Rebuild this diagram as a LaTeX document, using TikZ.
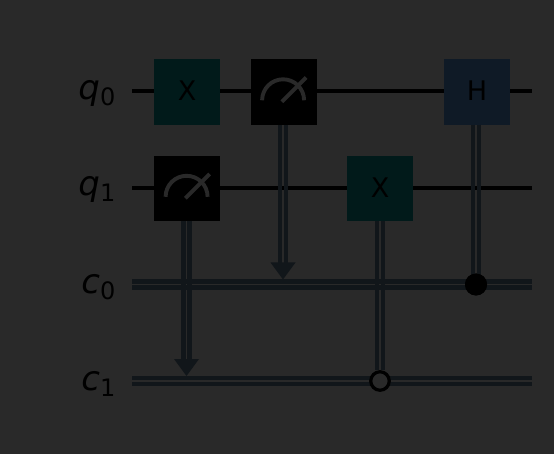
\documentclass[tikz,border=0pt]{standalone}
\usepackage{fontspec}
\setmainfont{DejaVu Sans}
\definecolor{bgc}{HTML}{292929}
\definecolor{clc}{HTML}{11161A}
\definecolor{xc}{HTML}{011A1A}
\definecolor{hc}{HTML}{0F1A26}
\newcommand{\wlabel}[2]{{\fontsize{34}{36}\selectfont\itshape #1}\raisebox{-6pt}{\fontsize{24}{26}\selectfont #2}}
\newcommand{\gatetext}[1]{\raisebox{2.6pt}{#1}}
\tikzset{
  x=1pt,y=-1pt,
  qwire/.style={line width=4.5pt,black},
  cwire/.style={line width=4.4pt,clc},
  gatebox/.style={draw=none,minimum width=66pt,minimum height=65.5pt,inner sep=0pt,text=black,font=\fontsize{27}{29}\selectfont},
  xgate/.style={gatebox,fill=xc},
  hgate/.style={gatebox,fill=hc},
  mgate/.style={gatebox,fill=black},
  meter/.style={line width=3.9pt,color=bgc},
  wlab/.style={anchor=base east,inner sep=0pt,text=black},
  head/.style={fill=clc,draw=none},
  ctrlon/.style={circle,fill=black,draw=none,minimum size=22pt,inner sep=0pt},
  ctrloff/.style={circle,fill=bgc,draw=black,line width=3.2pt,minimum size=18.5pt,inner sep=0pt}
}
\begin{document}
\begin{tikzpicture}
\useasboundingbox[fill=bgc] (0,0) rectangle (554,454);
% wire ends
\coordinate (q0l) at (132,91); \coordinate (q0r) at (532,91);
\coordinate (q1l) at (132,188); \coordinate (q1r) at (532,188);
\draw[qwire] (q0l) -- (q0r);
\draw[qwire] (q1l) -- (q1r);
\coordinate (c0l) at (132,284.5); \coordinate (c0r) at (532,284.5);
\coordinate (c1l) at (132,381); \coordinate (c1r) at (532,381);
\foreach \a/\b in {c0l/c0r,c1l/c1r}{
  \draw[cwire] ([yshift=-3.1pt]\a) -- ([yshift=-3.1pt]\b);
  \draw[cwire] ([yshift=3.1pt]\a) -- ([yshift=3.1pt]\b);
}
% labels
\node[wlab] (lq0) at (115.5,99.5) {\wlabel{q}{0}};
\node[wlab] (lq1) at (115.5,196) {\wlabel{q}{1}};
\node[wlab] (lc0) at (115.5,294) {\wlabel{c}{0}};
\node[wlab] (lc1) at (115.5,390.5) {\wlabel{c}{1}};
% gates
\node[xgate] (g1) at (187,92) {\gatetext{X}};
\node[mgate] (m1) at (187,188.5) {};
\node[mgate] (m0) at (283.5,92) {};
\node[xgate] (g2) at (380,188.5) {\gatetext{X}};
\node[hgate] (g3) at (477,92) {\gatetext{H}};
% ends of the classical verticals
\coordinate (t1) at (186.5,376);
\coordinate (t0) at (283,279.5);
\coordinate (b1) at (186.5,360);
\coordinate (b0) at (283,263.5);
\node[ctrloff] (k1) at (380,381) {};
\node[ctrlon] (k0) at (476,284.5) {};
% classical verticals
\foreach \a/\b in {m1.south/b1,m0.south/b0,g2.south/k1.north,g3.south/k0.center}{
  \draw[cwire] ([xshift=-3.1pt]\b |- \a) -- ([xshift=-3.1pt]\b);
  \draw[cwire] ([xshift=3.1pt]\b |- \a) -- ([xshift=3.1pt]\b);
}
\node[ctrlon] at (k0) {};
\fill[head] (t1) -- ++(-12.5,-17) -- ++(25,0) -- cycle;
\fill[head] (t0) -- ++(-12.5,-17) -- ++(25,0) -- cycle;
% meters
\foreach \m in {m1,m0}{
  \begin{scope}[shift={(\m.center)},xshift=-0.4pt]
    \draw[meter] (-21,8.3) arc[start angle=180,end angle=360,radius=21];
    \draw[meter] (-1.3,9.8) -- (23,-14.5);
  \end{scope}
}
\end{tikzpicture}
\end{document}
